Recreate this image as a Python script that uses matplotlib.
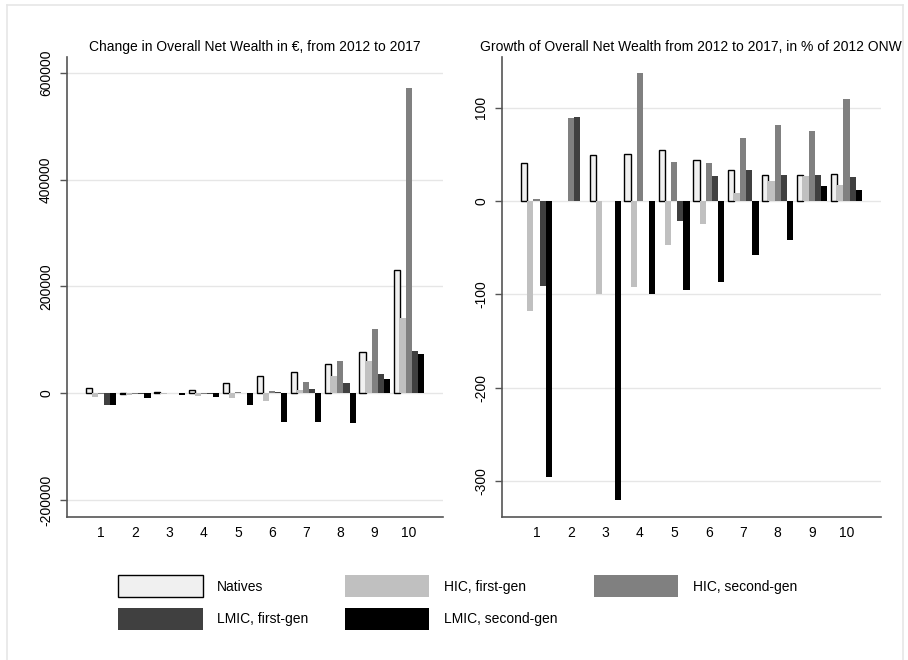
import matplotlib
matplotlib.use("Agg")
import matplotlib.pyplot as plt
import numpy as np
from matplotlib.patches import Patch
from matplotlib.lines import Line2D

plt.rcParams['font.family'] = ['Liberation Sans', 'DejaVu Sans']
plt.rcParams['axes.unicode_minus'] = False

groups = [1, 2, 3, 4, 5, 6, 7, 8, 9, 10]
series = ["Natives", "HIC, first-gen", "HIC, second-gen", "LMIC, first-gen", "LMIC, second-gen"]
colors = ["#f0f0f0", "#c0c0c0", "#808080", "#404040", "#000000"]

# change in overall net wealth (EUR), by decile
natives_eur = [9200, -2000, 1500, 7000, 19000, 32500, 40500, 54000, 77700, 230500]
hic1_eur = [-7700, -2500, -1000, -4500, -9000, -15000, 7000, 32000, 60800, 141000]
hic2_eur = [-2000, -2000, 0, -1500, 1500, 5000, 20500, 61000, 121000, 572000]
lmic1_eur = [-22000, -2000, 0, -1000, 1000, 2000, 8000, 20000, 36000, 79000]
lmic2_eur = [-22500, -9600, -2500, -7500, -22000, -54000, -53000, -55000, 27500, 73500]

# growth in % of 2012 ONW
natives_pct = [40.4, np.nan, 48.9, 50.7, 54.3, 43.6, 33.2, 28.2, 27.5, 29.0]
hic1_pct = [-117.6, np.nan, -100, -91.8, -47.2, -25, 8.2, 21.8, 26.4, 17.0]
hic2_pct = [1.8, 89.3, np.nan, 136.8, 41.8, 41.0, 67.5, 81.4, 75.0, 109.6]
lmic1_pct = [-90.7, 90.4, np.nan, np.nan, -22.0, 27.0, 33.2, 28.2, 28.2, 26.0]
lmic2_pct = [-295.5, np.nan, -320, -100, -95.4, -86.8, -58.2, -41.4, 16.0, 11.4]

eur = [natives_eur, hic1_eur, hic2_eur, lmic1_eur, lmic2_eur]
pct = [natives_pct, hic1_pct, hic2_pct, lmic1_pct, lmic2_pct]

W, H = 908, 660
fig = plt.figure(figsize=(W / 100, H / 100), dpi=100)

# faint outer frame
for xs, ys in [([7, 7], [0, 655]), ([7, 903], [655, 655]), ([903, 903], [0, 655])]:
    fig.add_artist(Line2D([x / W for x in xs], [y / H for y in ys], color="#e6e6e6", lw=1.2))

top, bot = 56.7, 516.7
ax1 = fig.add_axes([67 / W, 1 - bot / H, (443 - 67) / W, (bot - top) / H])
ax2 = fig.add_axes([502 / W, 1 - bot / H, (881 - 502) / W, (bot - top) / H])

x = np.arange(1, 11)
bw = 0.178
for ax, data in [(ax1, eur), (ax2, pct)]:
    for i, vals in enumerate(data):
        ax.bar(x + (i - 2) * bw, vals, bw, color=colors[i],
               edgecolor="black" if i == 0 else colors[i],
               linewidth=1.0 if i == 0 else 0, zorder=3)
    ax.set_xlim(0, 11)
    ax.set_xticks(x)
    ax.set_xticklabels([str(g) for g in groups])
    ax.tick_params(axis="x", length=0, pad=7, labelsize=10)
    ax.tick_params(axis="y", length=5, width=1, color="#555555", pad=5, labelsize=10)
    ax.grid(axis="y", color="#e6e6e6", lw=1, zorder=0)
    for s in ["top", "right"]:
        ax.spines[s].set_visible(False)
    for s in ["left", "bottom"]:
        ax.spines[s].set_color("#555555")
        ax.spines[s].set_linewidth(1.2)

ax1.set_ylim(-231000, 630000)
ax1.set_yticks([-200000, 0, 200000, 400000, 600000])
ax2.set_ylim(-338.4, 154.6)
ax2.set_yticks([-300, -200, -100, 0, 100])
for ax in (ax1, ax2):
    plt.setp(ax.get_yticklabels(), rotation=90, va="center")

fig.text(255 / W, 1 - 46.7 / H, "Change in Overall Net Wealth in €, from 2012 to 2017",
         ha="center", va="center", fontsize=10)
fig.text(690.5 / W, 1 - 46.7 / H, "Growth of Overall Net Wealth from 2012 to 2017, in % of 2012 ONW",
         ha="center", va="center", fontsize=10)

handles = [Patch(facecolor=colors[i], edgecolor="black" if i == 0 else colors[i],
                 linewidth=1.0 if i == 0 else 0) for i in range(5)]
order = [0, 3, 1, 4, 2]
fig.legend([handles[i] for i in order], [series[i] for i in order], ncol=3,
           loc="upper left", bbox_to_anchor=(118 / W, 1 - 575 / H), frameon=False,
           borderpad=0, borderaxespad=0, handlelength=6.1, handleheight=2.1,
           handletextpad=1.05, labelspacing=0.75, columnspacing=2.6, fontsize=10)

fig.savefig("out.png", dpi=100)
